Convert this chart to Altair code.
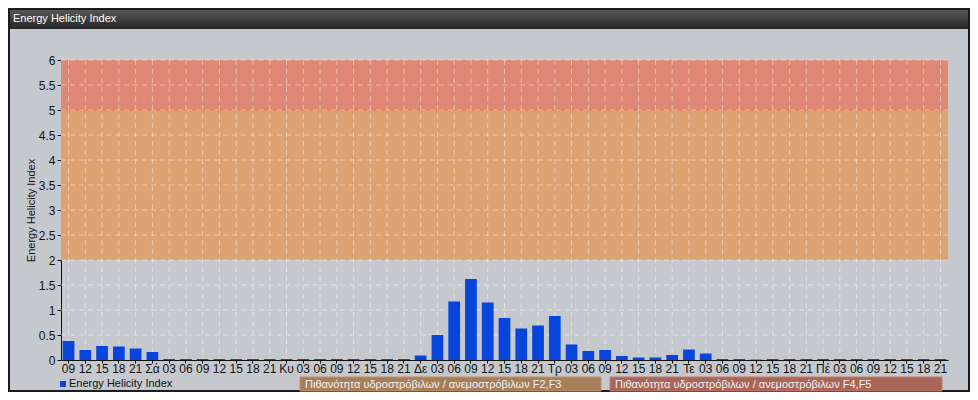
import json
import altair as alt
import pandas as pd

# ---- data -------------------------------------------------------------
LABELS = ["09", "12", "15", "18", "21",
          "Σά", "03", "06", "09", "12", "15", "18", "21",
          "Κυ", "03", "06", "09", "12", "15", "18", "21",
          "Δε", "03", "06", "09", "12", "15", "18", "21",
          "Τρ", "03", "06", "09", "12", "15", "18", "21",
          "Τε", "03", "06", "09", "12", "15", "18", "21",
          "Πέ", "03", "06", "09", "12", "15", "18", "21"]
VALUES = [0.38, 0.20, 0.28, 0.27, 0.23,
          0.16, 0.02, 0.02, 0.02, 0.02, 0.02, 0.02, 0.02,
          0.02, 0.02, 0.02, 0.02, 0.02, 0.02, 0.02, 0.02,
          0.09, 0.50, 1.17, 1.62, 1.15, 0.84, 0.63, 0.69,
          0.88, 0.31, 0.18, 0.20, 0.08, 0.05, 0.05, 0.10,
          0.21, 0.13, 0.02, 0.02, 0.01, 0.02, 0.02, 0.02,
          0.02, 0.02, 0.02, 0.02, 0.02, 0.02, 0.02, 0.02]
SERIES = "Energy Helicity Index"
Y_TICKS = [0, 0.5, 1, 1.5, 2, 2.5, 3, 3.5, 4, 4.5, 5, 5.5, 6]
BANDS_LO = [2, 5]
BANDS_HI = [5, 6]
BAND_COLORS = ["#dca272", "#e08876"]
BOX_TEXTS = ["Πιθανότητα υδροστρόβιλων / ανεμοστρόβιλων F2,F3",
             "Πιθανότητα υδροστρόβιλων / ανεμοστρόβιλων F4,F5"]

FONT = "Liberation Sans"
BLUE = "#0845dd"
W, H = 887, 300

df = pd.DataFrame({"idx": list(range(len(VALUES))), "v": VALUES, "series": SERIES})
bands = pd.DataFrame({"v": BANDS_LO, "v2": BANDS_HI, "c": BAND_COLORS})
grid_y = pd.DataFrame({"v": Y_TICKS[1:]})

label_expr = json.dumps(LABELS, ensure_ascii=False) + "[datum.value]"

y_scale = alt.Scale(domain=[0, 6], nice=False, zero=True)
y_axis = alt.Axis(values=Y_TICKS, format="~g", grid=False, title="Energy Helicity Index",
                  titleX=-30, titleY=150, titleAngle=-90, titleAlign="center",
                  titleBaseline="middle", titleFontSize=11, titleFontWeight="normal",
                  titleFont=FONT, titleColor="#111111",
                  labelFontSize=12, labelFont=FONT, labelColor="#111111", labelPadding=2,
                  tickColor="#111111", tickSize=4, domainColor="#111111")
x_scale = alt.Scale(paddingInner=0.3, paddingOuter=0.1)
x_axis = alt.Axis(labelExpr=label_expr, labelAngle=0, labelOverlap=False, grid=False,
                  title=None, labelFontSize=12, labelFont=FONT, labelColor="#111111",
                  labelPadding=0, tickColor="#111111", tickSize=3, domainColor="#111111")

one = alt.Data(values=[{"a": 1}])

# title bar & frame (decoration)
grad = alt.LinearGradient(gradient="linear",
                          stops=[alt.GradientStop(color="#5c5c5c", offset=0),
                                 alt.GradientStop(color="#252525", offset=1)],
                          x1=0, x2=0, y1=0, y2=1)
title_bar = alt.Chart(one).mark_rect(color=grad).encode(
    x=alt.value(-53), x2=alt.value(909), y=alt.value(-52), y2=alt.value(-31))
title_txt = alt.Chart(one).mark_text(text="Energy Helicity Index", align="left", baseline="middle",
                                     color="white", font=FONT, fontSize=11).encode(
    x=alt.value(-48), y=alt.value(-41))
frame = alt.Chart(one).mark_rect(fill=None, stroke="#1c1c1c", strokeWidth=2).encode(
    x=alt.value(-52), x2=alt.value(908), y=alt.value(-51), y2=alt.value(331))

band_layer = alt.Chart(bands).mark_rect(opacity=1).encode(
    y=alt.Y("v:Q", scale=y_scale, axis=y_axis),
    y2="v2:Q",
    x=alt.value(0), x2=alt.value(W),
    color=alt.Color("c:N", scale=None, legend=None))
line5 = alt.Chart(bands.iloc[[1]]).mark_rule(color="#e8784a", strokeWidth=1).encode(
    y=alt.Y("v:Q", scale=y_scale, axis=y_axis), x=alt.value(0), x2=alt.value(W))

hgrid = alt.Chart(grid_y).mark_rule(color="white", opacity=0.45, strokeDash=[5, 4]).encode(
    y=alt.Y("v:Q", scale=y_scale, axis=y_axis), x=alt.value(0), x2=alt.value(W))
vgrid = alt.Chart(df).mark_rule(color="white", opacity=0.45, strokeDash=[5, 4]).encode(
    x=alt.X("idx:O", scale=x_scale, axis=x_axis), y=alt.value(0), y2=alt.value(H))

bars = alt.Chart(df).mark_bar(color=BLUE).encode(
    x=alt.X("idx:O", scale=x_scale, axis=x_axis),
    y=alt.Y("v:Q", scale=y_scale, axis=y_axis))

# legend (series key)
leg_sym = alt.Chart(one).mark_square(color=BLUE, size=36, opacity=1).encode(
    x=alt.value(2), y=alt.value(324))
leg_txt = alt.Chart(one).mark_text(text=SERIES, align="left", baseline="middle",
                                   color="#111111", font=FONT, fontSize=11).encode(
    x=alt.value(8), y=alt.value(323.5))

box1 = alt.Chart(one).mark_rect(fill="#a87d5a", stroke="#c49068", strokeWidth=1).encode(
    x=alt.value(239), x2=alt.value(540), y=alt.value(317), y2=alt.value(331))
box2 = alt.Chart(one).mark_rect(fill="#a96558", stroke="#c47a6c", strokeWidth=1).encode(
    x=alt.value(549), x2=alt.value(881), y=alt.value(317), y2=alt.value(331))
txt1 = alt.Chart(one).mark_text(text=BOX_TEXTS[0], align="left", baseline="middle",
                                color="#f2f2f2", font=FONT, fontSize=11).encode(
    x=alt.value(244), y=alt.value(324.5))
txt2 = alt.Chart(one).mark_text(text=BOX_TEXTS[1], align="left", baseline="middle",
                                color="#f2f2f2", font=FONT, fontSize=11).encode(
    x=alt.value(554), y=alt.value(324.5))

chart = alt.layer(
    title_bar, title_txt, frame, band_layer, line5, hgrid, vgrid, bars,
    leg_sym, leg_txt, box1, box2, txt1, txt2
).properties(
    width=W, height=H, autosize="none",
    padding={"left": 53, "top": 52, "right": 22, "bottom": 32},
    background="#c5c9ce"
).configure_view(stroke=None)

chart.save("out.html", embed_options={"renderer": "svg", "actions": False})
